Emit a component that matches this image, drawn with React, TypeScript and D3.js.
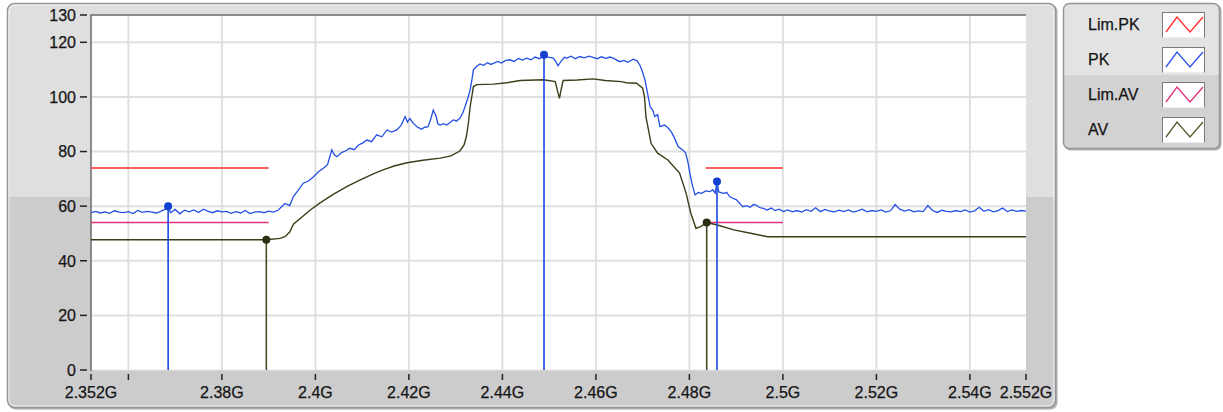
import React from "react";
import * as d3 from "d3";

// ---------- data ----------
const xTicks = [2.352, 2.36, 2.38, 2.4, 2.42, 2.44, 2.46, 2.48, 2.5, 2.52, 2.54, 2.552];
const xTickLabels = ["2.352G", "", "2.38G", "2.4G", "2.42G", "2.44G", "2.46G", "2.48G", "2.5G", "2.52G", "2.54G", "2.552G"];
const xGrid = [2.36, 2.38, 2.4, 2.42, 2.44, 2.46, 2.48, 2.5, 2.52, 2.54];
const yTicks = [0, 20, 40, 60, 80, 100, 120, 130];
const yGrid = [20, 40, 60, 80, 100, 120];

const seriesNames = ["Lim.PK", "PK", "Lim.AV", "AV"];
const seriesColors = ["#ff2a2a", "#2a55e6", "#e0307e", "#55552e"];

const limPK: [number, number][][] = [
  [[2.352, 74], [2.39, 74]],
  [[2.4835, 74], [2.5, 74]],
];
const limAV: [number, number][][] = [
  [[2.352, 54], [2.39, 54]],
  [[2.4835, 54], [2.5, 54]],
];

const pk: [number, number][] = [
  [2.352, 57.6], [2.353, 58.1], [2.354, 57.5], [2.355, 57.9], [2.356, 57.4], [2.357, 58.3], [2.358, 57.8],
  [2.359, 57.6], [2.36, 58.0], [2.361, 57.3], [2.362, 58.4], [2.363, 57.7], [2.364, 58.1], [2.365, 57.8],
  [2.366, 57.5], [2.367, 58.2], [2.368, 59.0], [2.3685, 60.0], [2.369, 57.6], [2.37, 58.8], [2.371, 57.2],
  [2.372, 58.5], [2.373, 57.9], [2.374, 58.6], [2.375, 57.7], [2.376, 58.9], [2.377, 58.2], [2.378, 57.6],
  [2.379, 58.3], [2.38, 57.9], [2.381, 58.1], [2.382, 57.4], [2.383, 58.0], [2.384, 57.5], [2.385, 58.4],
  [2.386, 57.3], [2.387, 57.8], [2.388, 58.0], [2.389, 57.6], [2.39, 58.2], [2.391, 57.8], [2.392, 58.5],
  [2.3935, 61.0], [2.3945, 60.2], [2.3953, 63.5], [2.3963, 65.8], [2.3974, 68.4], [2.3985, 69.2], [2.3996, 70.8],
  [2.4006, 72.5], [2.4017, 73.9], [2.4026, 75.2], [2.4035, 80.6], [2.404, 78.9], [2.4046, 78.1], [2.4056, 79.6],
  [2.4065, 80.3], [2.4074, 81.2], [2.4083, 80.7], [2.4092, 82.4], [2.4101, 83.1], [2.411, 84.2], [2.412, 83.6],
  [2.4131, 86.1], [2.4142, 85.4], [2.4153, 87.9], [2.4163, 87.1], [2.4174, 87.9], [2.4183, 89.5], [2.4192, 92.8],
  [2.4197, 90.8], [2.4202, 92.1], [2.4209, 90.4], [2.4218, 89.0], [2.4227, 88.2], [2.4234, 88.9], [2.4241, 89.1],
  [2.4247, 92.0], [2.4252, 95.2], [2.4258, 93.0], [2.4262, 90.1], [2.4267, 89.7], [2.4274, 90.2], [2.4281, 89.7],
  [2.4288, 90.6], [2.4295, 91.6], [2.4302, 91.2], [2.4309, 92.2], [2.4315, 94.0], [2.432, 96.4], [2.4326, 99.5],
  [2.4331, 102.6], [2.4335, 106.5], [2.4338, 109.9], [2.4345, 111.2], [2.4352, 112.1], [2.436, 111.6], [2.4368, 112.5],
  [2.4375, 111.9], [2.4381, 112.3], [2.439, 113.0], [2.4398, 112.4], [2.4407, 113.4], [2.4416, 113.6], [2.4425, 113.0],
  [2.4434, 114.1], [2.4443, 113.5], [2.4452, 114.2], [2.4461, 113.6], [2.447, 114.6], [2.448, 114.0], [2.4489, 115.4],
  [2.4498, 114.6], [2.4509, 114.2], [2.4514, 113.0], [2.4519, 111.4], [2.4526, 113.2], [2.4533, 114.5], [2.4538, 114.2],
  [2.4547, 114.9], [2.4556, 114.0], [2.4566, 114.8], [2.4575, 114.3], [2.4585, 114.9], [2.4594, 114.5], [2.4603, 114.0],
  [2.4612, 114.7], [2.4621, 114.1], [2.463, 114.6], [2.4637, 114.2], [2.4651, 112.9], [2.466, 113.4], [2.4668, 112.7],
  [2.468, 113.8], [2.4688, 113.2], [2.4694, 111.7], [2.4699, 109.5], [2.4705, 106.2], [2.4716, 96.4], [2.4722, 95.0],
  [2.4726, 92.8], [2.4732, 93.5], [2.4737, 89.1], [2.4747, 89.7], [2.4755, 88.5], [2.4761, 87.3], [2.4768, 85.0],
  [2.4776, 81.8], [2.4786, 80.5], [2.4792, 79.4], [2.4797, 76.0], [2.4801, 72.1], [2.4806, 68.0], [2.4812, 64.1],
  [2.4819, 65.0], [2.4826, 64.7], [2.4835, 65.6], [2.4844, 65.3], [2.485, 66.0], [2.4855, 64.8], [2.4859, 69.0],
  [2.4863, 65.2], [2.4872, 64.7], [2.488, 65.0], [2.4886, 63.5], [2.4893, 62.9], [2.49, 62.4], [2.4908, 61.0],
  [2.4914, 59.8], [2.4922, 60.2], [2.493, 59.6], [2.4937, 60.6], [2.4943, 60.4], [2.495, 59.5], [2.4958, 59.2],
  [2.4966, 58.6], [2.4975, 59.3], [2.4983, 58.4], [2.4992, 58.9], [2.5001, 58.0],
  [2.501, 58.6], [2.502, 57.9], [2.503, 58.4], [2.504, 57.8], [2.505, 58.7], [2.506, 58.1], [2.507, 59.4],
  [2.508, 58.0], [2.509, 58.8], [2.51, 58.2], [2.511, 57.9], [2.512, 58.5], [2.513, 58.0], [2.514, 58.6],
  [2.515, 57.8], [2.516, 58.3], [2.517, 58.9], [2.518, 57.9], [2.519, 58.4], [2.52, 58.1], [2.521, 58.6],
  [2.522, 57.8], [2.523, 58.3], [2.524, 60.6], [2.525, 58.9], [2.526, 58.2], [2.527, 58.7], [2.528, 57.9],
  [2.529, 58.3], [2.53, 58.0], [2.531, 60.2], [2.532, 58.4], [2.533, 57.7], [2.534, 58.5], [2.535, 58.1],
  [2.536, 57.9], [2.537, 58.4], [2.538, 58.0], [2.539, 58.6], [2.54, 57.8], [2.541, 58.3], [2.542, 59.6],
  [2.543, 58.1], [2.544, 58.7], [2.545, 57.9], [2.546, 58.4], [2.547, 59.3], [2.548, 58.0], [2.549, 58.6],
  [2.55, 58.1], [2.551, 58.4], [2.552, 58.2],
];

const av: [number, number][] = [
  [2.352, 47.7], [2.3895, 47.7], [2.3924, 48.2], [2.3935, 48.8], [2.3945, 50.5], [2.3953, 53.4], [2.3975, 56.6],
  [2.3989, 58.6], [2.401, 61.2], [2.4039, 64.4], [2.407, 67.4], [2.4096, 69.6], [2.4125, 71.9], [2.4146, 73.4],
  [2.417, 74.8], [2.4196, 75.9], [2.423, 76.8], [2.4267, 77.6], [2.429, 78.4], [2.4309, 80.2], [2.4318, 82.4],
  [2.4323, 85.5], [2.4327, 90.0], [2.4331, 96.4], [2.4338, 103.8], [2.4345, 104.5], [2.4381, 104.7], [2.441, 105.2],
  [2.4438, 106.0], [2.4488, 106.3], [2.4513, 105.6], [2.4519, 101.5], [2.4522, 99.5], [2.4526, 103.0], [2.453, 106.0],
  [2.456, 106.2], [2.4594, 106.6], [2.462, 106.0], [2.4654, 105.6], [2.4665, 105.2], [2.4687, 105.0], [2.47, 103.2],
  [2.4704, 100.0], [2.4707, 92.8], [2.4718, 83.0], [2.4732, 79.4], [2.4754, 76.9], [2.4779, 72.1], [2.4793, 64.7],
  [2.4803, 57.4], [2.4814, 51.9], [2.4824, 52.5], [2.4837, 54.0], [2.486, 53.1], [2.4895, 51.3], [2.4931, 50.1],
  [2.4967, 48.8], [2.502, 48.8], [2.552, 48.8],
];

const pkMarkers: [number, number][] = [[2.3685, 60.0], [2.4489, 115.4], [2.4859, 69.0]];
const avMarkers: [number, number][] = [[2.3895, 47.7], [2.4837, 54.0]];

// ---------- layout ----------
const W = 1223;
const H = 412;
const PL = 91, PR = 1026, PT = 15, PB = 370;
const FONT = "'Liberation Sans', Arial, sans-serif";
const TXT = "#151515";

export default function App() {
  const x = d3.scaleLinear().domain([2.352, 2.552]).range([PL, PR]);
  const y = d3.scaleLinear().domain([0, 130]).range([PB, PT]);
  const line = d3.line<[number, number]>().x((d) => x(d[0])).y((d) => y(d[1]));

  const pkColor = "#2450e4";

  return (
    <div style={{ position: "absolute", left: 0, top: 0 }}>
      <svg width={W} height={H} style={{ display: "block", background: "#ffffff" }} fontFamily={FONT}>
        <defs>
          <linearGradient id="panelBg" x1="0" y1="0" x2="0" y2="1">
            <stop offset="0" stopColor="#dfdfdf" />
            <stop offset="0.479" stopColor="#dfdfdf" />
            <stop offset="0.479" stopColor="#cccccc" />
            <stop offset="1" stopColor="#cccccc" />
          </linearGradient>
          <linearGradient id="legendBg" x1="0" y1="0" x2="0" y2="1">
            <stop offset="0" stopColor="#e3e3e3" />
            <stop offset="0.49" stopColor="#e3e3e3" />
            <stop offset="0.49" stopColor="#d2d2d2" />
            <stop offset="1" stopColor="#d2d2d2" />
          </linearGradient>
          <clipPath id="plotClip">
            <rect x={PL} y={PT} width={PR - PL} height={PB - PT} />
          </clipPath>
        </defs>

        {/* main panel */}
        <rect x={8.5} y={4.5} width={1049} height={405} rx={7} fill="#b0b0b0" />
        <rect x={7.5} y={3.5} width={1048} height={404} rx={7} fill="url(#panelBg)" stroke="#969696" strokeWidth={1.5} />
        <rect x={9} y={5} width={1045} height={401} rx={6} fill="none" stroke="#f2f2f2" strokeWidth={1} />

        {/* legend panel */}
        <rect x={1064.5} y={4.5} width={157} height={146} rx={6} fill="#b0b0b0" />
        <rect x={1063.5} y={3.5} width={156} height={145} rx={6} fill="url(#legendBg)" stroke="#969696" strokeWidth={1.5} />

        {/* plot area */}
        <rect x={PL} y={PT} width={PR - PL} height={PB - PT} fill="#ffffff" />
        {xGrid.map((v) => (
          <line key={"gx" + v} x1={x(v)} x2={x(v)} y1={PT} y2={PB} stroke="#e0e0e0" strokeWidth={2} />
        ))}
        {yGrid.map((v) => (
          <line key={"gy" + v} x1={PL} x2={PR} y1={y(v)} y2={y(v)} stroke="#e0e0e0" strokeWidth={2} />
        ))}
        <line x1={PL} x2={PR} y1={PB} y2={PB} stroke="#e4e4e4" strokeWidth={1} />
        <line x1={PL - 0.5} x2={PR} y1={PT} y2={PT} stroke="#6a6a6a" strokeWidth={1.5} />
        <line x1={PL} x2={PL} y1={PT} y2={PB + 1} stroke="#6a6a6a" strokeWidth={1.5} />

        {/* y axis ticks & labels */}
        {yTicks.map((v) => (
          <g key={"yt" + v}>
            <line x1={80} x2={87} y1={y(v)} y2={y(v)} stroke="#222" strokeWidth={1.5} />
            <text x={76} y={y(v)} dy="0.36em" textAnchor="end" fontSize={16} fill={TXT} stroke={TXT} strokeWidth={0.25}>
              {v}
            </text>
          </g>
        ))}

        {/* x axis ticks & labels */}
        {xTicks.map((v, i) => (
          <g key={"xt" + v}>
            <line x1={x(v)} x2={x(v)} y1={374} y2={380} stroke="#222" strokeWidth={1.5} />
            <text x={x(v)} y={398} textAnchor="middle" fontSize={16} fill={TXT} stroke={TXT} strokeWidth={0.25}>
              {xTickLabels[i]}
            </text>
          </g>
        ))}

        <g clipPath="url(#plotClip)">
          {/* limits */}
          {limPK.map((seg, i) => (
            <path key={"lpk" + i} d={line(seg) || ""} fill="none" stroke={seriesColors[0]} strokeWidth={1.5} />
          ))}
          {limAV.map((seg, i) => (
            <path key={"lav" + i} d={line(seg) || ""} fill="none" stroke={seriesColors[2]} strokeWidth={1.5} />
          ))}
          {/* traces */}
          <path d={line(av) || ""} fill="none" stroke="#3d3d1a" strokeWidth={1.4} />
          <path d={line(pk) || ""} fill="none" stroke={pkColor} strokeWidth={1.3} />

          {/* cursors */}
          {avMarkers.map((m, i) => (
            <g key={"am" + i}>
              <line x1={x(m[0])} x2={x(m[0])} y1={y(m[1])} y2={PB} stroke="#4a4a26" strokeWidth={1.6} />
              <circle cx={x(m[0])} cy={y(m[1])} r={4} fill="#2e2e12" />
            </g>
          ))}
          {pkMarkers.map((m, i) => (
            <g key={"pm" + i}>
              <line x1={x(m[0])} x2={x(m[0])} y1={y(m[1])} y2={PB} stroke="#1c48e0" strokeWidth={1.6} />
              <circle cx={x(m[0])} cy={y(m[1])} r={4} fill="#1040d0" />
            </g>
          ))}
        </g>

        {/* legend entries */}
        {seriesNames.map((name, i) => {
          const top = 12 + i * 35;
          return (
            <g key={name}>
              <text x={1088} y={top + 12.5} dy="0.36em" fontSize={16} fill={TXT} stroke={TXT} strokeWidth={0.25}>
                {name}
              </text>
              <rect x={1162.5} y={top + 0.5} width={42} height={25} fill="#ffffff" stroke="#7a7a7a" strokeWidth={1} />
              <line x1={1162.5} x2={1204.5} y1={top + 25.5} y2={top + 25.5} stroke="#eeeeee" />
              <polyline
                points={`${1166},${top + 20} ${1177},${top + 5} ${1190},${top + 20} ${1203},${top + 5}`}
                fill="none"
                stroke={seriesColors[i]}
                strokeWidth={1.3}
              />
            </g>
          );
        })}
      </svg>
    </div>
  );
}
